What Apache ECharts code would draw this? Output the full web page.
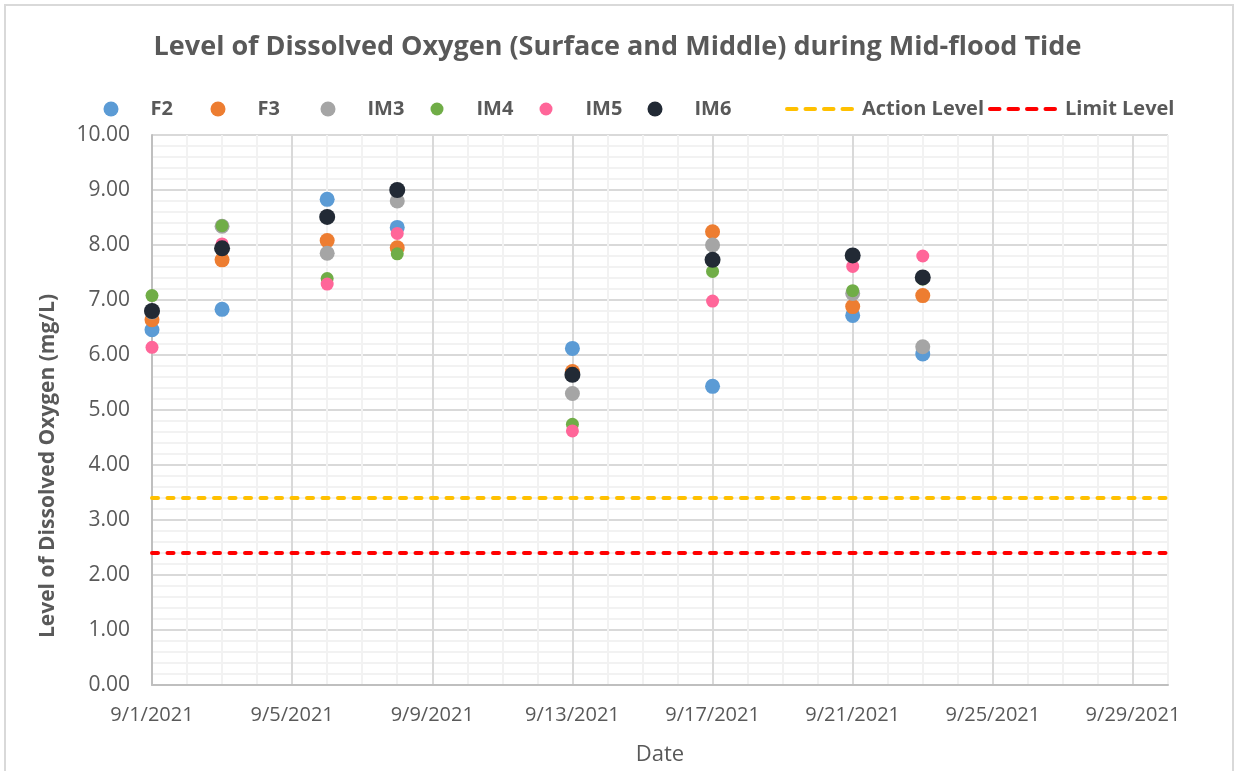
<!DOCTYPE html>
<html>
<head>
<meta charset="utf-8">
<title>Dissolved Oxygen - Mid-flood Tide</title>
<script src="https://cdn.jsdelivr.net/npm/echarts@6/dist/echarts.min.js"></script>
<style>
	html, body { margin: 0; padding: 0; background: #fff; }
	#chart { width: 1235px; height: 771px; }
</style>
</head>
<body>
<div id="chart"></div>
<script>
// sampling dates
const dates = ['9/1/2021', '9/3/2021', '9/6/2021', '9/8/2021', '9/13/2021', '9/17/2021', '9/21/2021', '9/23/2021'];

// dissolved oxygen (mg/L) per station, same order as dates
const F2 = [6.46, 6.83, 8.83, 8.32, 6.12, 5.43, 6.72, 6.02];
const F3 = [6.64, 7.73, 8.08, 7.95, 5.70, 8.24, 6.88, 7.08];
const IM3 = [6.78, 8.34, 7.85, 8.80, 5.30, 8.00, 7.12, 6.15];
const IM4 = [7.08, 8.35, 7.39, 7.84, 4.74, 7.52, 7.17, 7.38];
const IM5 = [6.14, 8.02, 7.29, 8.21, 4.62, 6.98, 7.61, 7.80];
const IM6 = [6.80, 7.94, 8.51, 9.00, 5.64, 7.73, 7.81, 7.41];

const actionLevel = 3.4;
const limitLevel = 2.4;

// axis range
const startDate = '9/1/2021';
const endDate = '9/30/2021';
const yMin = 0;
const yMax = 10;

const FONT = 'Open Sans';
const GREY_TEXT = '#595959';

function dayIndex(str) {
	const [mm, dd, yy] = str.split('/').map(Number);
	const base = startDate.split('/').map(Number);
	return Math.round((Date.UTC(yy, mm - 1, dd) - Date.UTC(base[2], base[0] - 1, base[1])) / 86400000);
}

function dayLabel(idx) {
	const [mm, dd, yy] = startDate.split('/').map(Number);
	const d = new Date(Date.UTC(yy, mm - 1, dd + idx));
	return `${d.getUTCMonth() + 1}/${d.getUTCDate()}/${d.getUTCFullYear()}`;
}

const stations = [
	{ name: 'F2', values: F2, color: '#5B9BD5', size: 15 },
	{ name: 'F3', values: F3, color: '#ED7D31', size: 15 },
	{ name: 'IM3', values: IM3, color: '#A5A5A5', size: 15 },
	{ name: 'IM4', values: IM4, color: '#70AD47', size: 13 },
	{ name: 'IM5', values: IM5, color: '#FF6699', size: 13 },
	{ name: 'IM6', values: IM6, color: '#222A35', size: 16 }
];

const levels = [
	{ name: 'Action Level', value: actionLevel, color: '#FFC000' },
	{ name: 'Limit Level', value: limitLevel, color: '#FF0000' }
];

const lastDay = dayIndex(endDate);

const series = stations.map(s => ({
	name: s.name,
	type: 'scatter',
	symbol: 'circle',
	symbolSize: s.size,
	itemStyle: { color: s.color, opacity: 1 },
	data: dates.map((d, i) => [dayIndex(d), s.values[i]])
})).concat(levels.map(l => ({
	name: l.name,
	type: 'line',
	symbol: 'none',
	lineStyle: { color: l.color, width: 4, type: [6, 9.5], cap: 'round' },
	itemStyle: { color: l.color },
	data: [[0, l.value], [lastDay, l.value]]
})));

// one legend per entry so the entries sit where the original put them
// (x of the marker centre for stations, x of the line start for levels)
const legendSpots = [111, 218, 328, 437, 546, 655, 785, 988];
const legends = series.map((s, i) => {
	const isLine = s.type === 'line';
	const iconSize = isLine ? 14 : Math.min(15, s.symbolSize);
	return {
		data: [s.name],
		left: isLine ? legendSpots[i] : legendSpots[i] - iconSize / 2,
		top: 98,
		padding: 0,
		itemWidth: isLine ? 70 : iconSize,
		itemHeight: iconSize,
		itemGap: 0,
		selectedMode: false,
		itemStyle: isLine ? { opacity: 0 } : {},
		lineStyle: isLine ? { width: 4, type: [9.5, 9], cap: 'round' } : {},
		textStyle: {
			fontFamily: FONT, fontSize: 20, fontWeight: 'bold', color: GREY_TEXT, lineHeight: 22,
			padding: isLine ? [0, 0, 0, 0] : [0, 0, 0, 27 + (15 - iconSize) / 2]
		}
	};
});

const chart = echarts.init(document.getElementById('chart'), null, { renderer: 'canvas' });

chart.setOption({
	backgroundColor: '#fff',
	animation: false,
	title: {
		text: 'Level of Dissolved Oxygen (Surface and Middle) during Mid-flood Tide',
		left: 'center',
		top: 34,
		padding: 0,
		textStyle: { fontFamily: FONT, fontSize: 27, fontWeight: 'bold', color: GREY_TEXT }
	},
	legend: legends,
	graphic: [{
		type: 'rect',
		z: -10,
		silent: true,
		shape: { x: 5, y: 5, width: 1228, height: 800 },
		style: { fill: 'none', stroke: '#D9D9D9', lineWidth: 2 }
	}],
	grid: { left: 152, right: 67, top: 135, bottom: 84, containLabel: false },
	xAxis: {
		type: 'value',
		min: 0,
		max: lastDay,
		interval: 1,
		name: 'Date',
		nameLocation: 'middle',
		nameGap: 59,
		nameTextStyle: { fontFamily: FONT, fontSize: 22, color: GREY_TEXT },
		axisLine: { show: true, onZero: false, lineStyle: { color: '#BFBFBF', width: 2 } },
		axisTick: { show: false },
		axisLabel: {
			fontFamily: FONT,
			fontSize: 20,
			color: GREY_TEXT,
			margin: 20,
			showMaxLabel: false,
			formatter: v => (Math.round(v) % 4 === 0 ? dayLabel(Math.round(v)) : '')
		},
		splitLine: {
			show: true,
			lineStyle: { color: ['#D9D9D9', '#F2F2F2', '#F2F2F2', '#F2F2F2'], width: 2 }
		}
	},
	yAxis: {
		type: 'value',
		min: yMin,
		max: yMax,
		interval: 0.2,
		name: 'Level of Dissolved Oxygen (mg/L)',
		nameLocation: 'middle',
		nameGap: 93,
		nameTextStyle: {
			fontFamily: FONT, fontSize: 21, fontWeight: 'bold', color: GREY_TEXT,
			padding: [0, 112, 0, 0]
		},
		axisLine: { show: true, lineStyle: { color: '#BFBFBF', width: 2 } },
		axisTick: { show: false },
		axisLabel: {
			fontFamily: FONT,
			fontSize: 21,
			color: GREY_TEXT,
			margin: 22,
			formatter: v => (Math.abs(v - Math.round(v)) < 1e-6 ? Math.round(v).toFixed(2) : '')
		},
		splitLine: {
			show: true,
			lineStyle: { color: ['#D9D9D9', '#F2F2F2', '#F2F2F2', '#F2F2F2', '#F2F2F2'], width: 2 }
		}
	},
	series: series
});

window.addEventListener('resize', () => chart.resize());
</script>
</body>
</html>
